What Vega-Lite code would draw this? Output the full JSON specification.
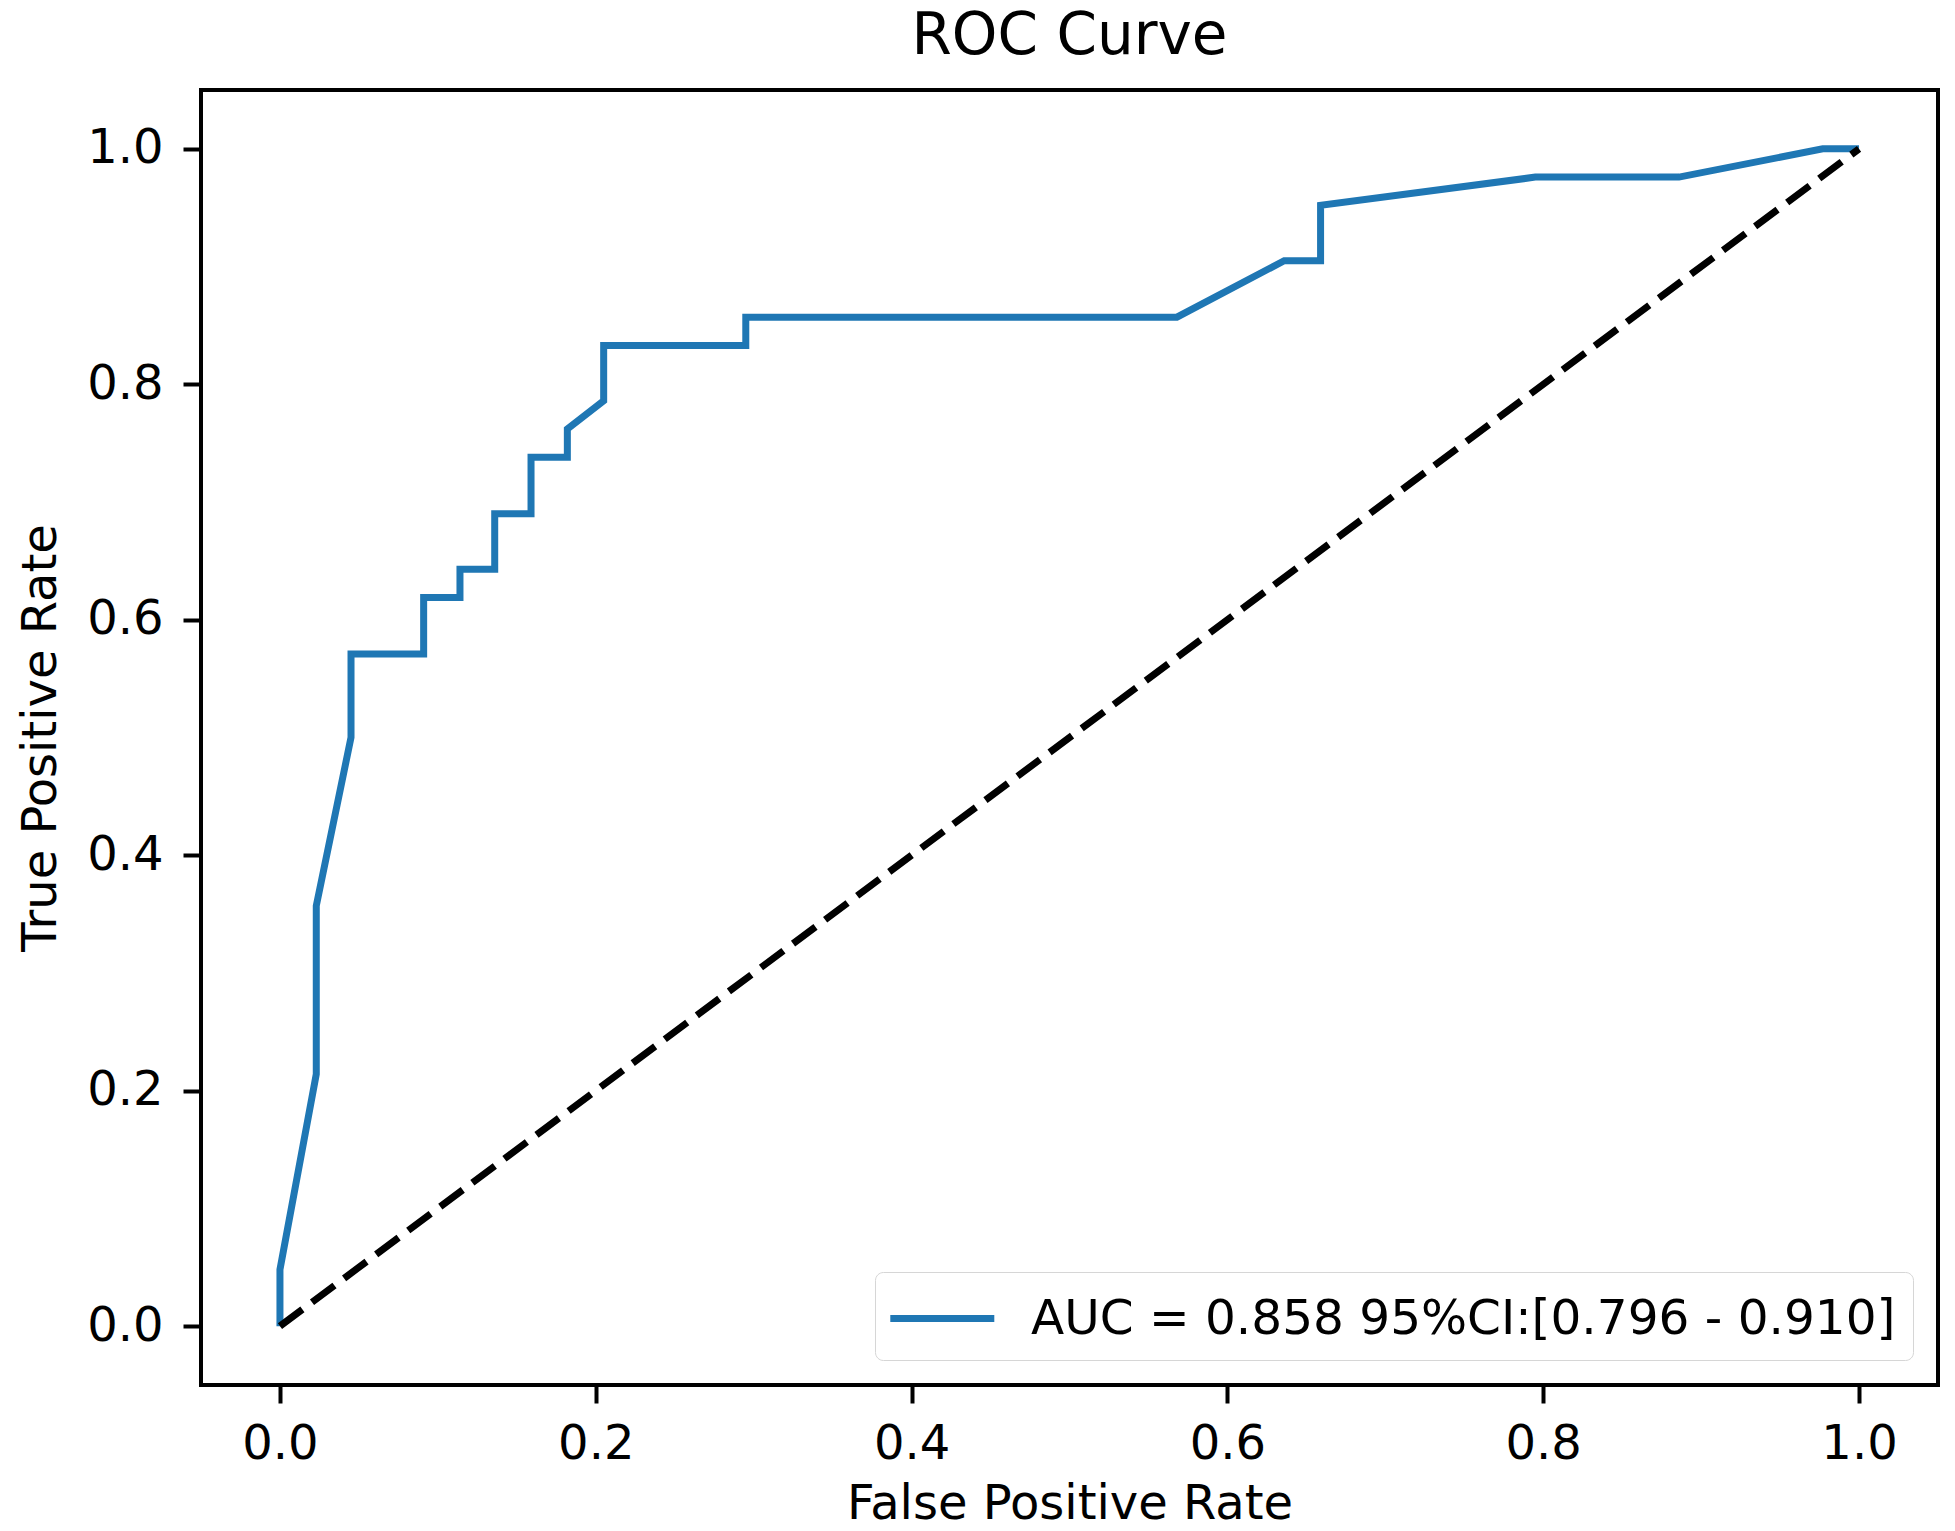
{
  "$schema": "https://vega.github.io/schema/vega-lite/v6.json",
  "width": 1737,
  "height": 1295,
  "autosize": {"type": "none"},
  "padding": {"left": 201, "top": 90, "right": 17, "bottom": 146},
  "background": "white",
  "title": {"text": "ROC Curve", "fontSize": 58, "font": "DejaVu Sans", "fontWeight": "normal", "color": "black", "baseline": "alphabetic", "offset": -22, "frame": "group", "anchor": "middle"},
  "config": {
    "font": "DejaVu Sans",
    "view": {"stroke": "black", "strokeWidth": 4},
    "axis": {
      "grid": false,
      "domain": false,
      "tickSize": 18,
      "tickWidth": 4,
      "tickColor": "black",
      "labelFont": "DejaVu Sans",
      "labelFontSize": 48,
      "labelColor": "black",
      "labelFlush": false,
      "labelOverlap": false,
      "titleFont": "DejaVu Sans",
      "titleFontSize": 48,
      "titleFontWeight": "normal",
      "titleColor": "black"
    },
    "legend": {
      "labelFont": "DejaVu Sans",
      "labelFontSize": 48.5,
      "labelColor": "black",
      "labelLimit": 3000,
      "labelOffset": 80,
      "symbolType": "M-1.2,0H2.8",
      "symbolSize": 2704,
      "symbolStrokeWidth": 7,
      "padding": 17,
      "cornerRadius": 8,
      "strokeColor": "#d6d6d6",
      "fillColor": "white"
    }
  },
  "layer": [
    {
      "data": {
        "values": [
          {"fpr": 0.0, "tpr": 0.0, "step": 0, "label": "AUC = 0.858 95%CI:[0.796 - 0.910]"},
          {"fpr": 0.0, "tpr": 0.048, "step": 1, "label": "AUC = 0.858 95%CI:[0.796 - 0.910]"},
          {"fpr": 0.023, "tpr": 0.214, "step": 2, "label": "AUC = 0.858 95%CI:[0.796 - 0.910]"},
          {"fpr": 0.023, "tpr": 0.357, "step": 3, "label": "AUC = 0.858 95%CI:[0.796 - 0.910]"},
          {"fpr": 0.045, "tpr": 0.5, "step": 4, "label": "AUC = 0.858 95%CI:[0.796 - 0.910]"},
          {"fpr": 0.045, "tpr": 0.571, "step": 5, "label": "AUC = 0.858 95%CI:[0.796 - 0.910]"},
          {"fpr": 0.091, "tpr": 0.571, "step": 6, "label": "AUC = 0.858 95%CI:[0.796 - 0.910]"},
          {"fpr": 0.091, "tpr": 0.619, "step": 7, "label": "AUC = 0.858 95%CI:[0.796 - 0.910]"},
          {"fpr": 0.114, "tpr": 0.619, "step": 8, "label": "AUC = 0.858 95%CI:[0.796 - 0.910]"},
          {"fpr": 0.114, "tpr": 0.643, "step": 9, "label": "AUC = 0.858 95%CI:[0.796 - 0.910]"},
          {"fpr": 0.136, "tpr": 0.643, "step": 10, "label": "AUC = 0.858 95%CI:[0.796 - 0.910]"},
          {"fpr": 0.136, "tpr": 0.69, "step": 11, "label": "AUC = 0.858 95%CI:[0.796 - 0.910]"},
          {"fpr": 0.159, "tpr": 0.69, "step": 12, "label": "AUC = 0.858 95%CI:[0.796 - 0.910]"},
          {"fpr": 0.159, "tpr": 0.738, "step": 13, "label": "AUC = 0.858 95%CI:[0.796 - 0.910]"},
          {"fpr": 0.182, "tpr": 0.738, "step": 14, "label": "AUC = 0.858 95%CI:[0.796 - 0.910]"},
          {"fpr": 0.182, "tpr": 0.762, "step": 15, "label": "AUC = 0.858 95%CI:[0.796 - 0.910]"},
          {"fpr": 0.205, "tpr": 0.786, "step": 16, "label": "AUC = 0.858 95%CI:[0.796 - 0.910]"},
          {"fpr": 0.205, "tpr": 0.833, "step": 17, "label": "AUC = 0.858 95%CI:[0.796 - 0.910]"},
          {"fpr": 0.295, "tpr": 0.833, "step": 18, "label": "AUC = 0.858 95%CI:[0.796 - 0.910]"},
          {"fpr": 0.295, "tpr": 0.857, "step": 19, "label": "AUC = 0.858 95%CI:[0.796 - 0.910]"},
          {"fpr": 0.568, "tpr": 0.857, "step": 20, "label": "AUC = 0.858 95%CI:[0.796 - 0.910]"},
          {"fpr": 0.636, "tpr": 0.905, "step": 21, "label": "AUC = 0.858 95%CI:[0.796 - 0.910]"},
          {"fpr": 0.659, "tpr": 0.905, "step": 22, "label": "AUC = 0.858 95%CI:[0.796 - 0.910]"},
          {"fpr": 0.659, "tpr": 0.952, "step": 23, "label": "AUC = 0.858 95%CI:[0.796 - 0.910]"},
          {"fpr": 0.795, "tpr": 0.976, "step": 24, "label": "AUC = 0.858 95%CI:[0.796 - 0.910]"},
          {"fpr": 0.886, "tpr": 0.976, "step": 25, "label": "AUC = 0.858 95%CI:[0.796 - 0.910]"},
          {"fpr": 0.977, "tpr": 1.0, "step": 26, "label": "AUC = 0.858 95%CI:[0.796 - 0.910]"},
          {"fpr": 1.0, "tpr": 1.0, "step": 27, "label": "AUC = 0.858 95%CI:[0.796 - 0.910]"}
        ]
      },
      "mark": {"type": "line", "strokeWidth": 7, "strokeJoin": "miter", "strokeCap": "butt"},
      "encoding": {
        "x": {"field": "fpr", "type": "quantitative", "scale": {"domain": [-0.05, 1.05], "nice": false, "zero": false}, "axis": {"values": [0, 0.2, 0.4, 0.6, 0.8, 1.0], "format": ".1f", "labelPadding": 17, "title": "False Positive Rate", "titleY": 133, "titleBaseline": "alphabetic"}},
        "y": {"field": "tpr", "type": "quantitative", "scale": {"domain": [-0.05, 1.05], "nice": false, "zero": false}, "axis": {"values": [0, 0.2, 0.4, 0.6, 0.8, 1.0], "format": ".1f", "labelPadding": 20, "title": "True Positive Rate", "titleX": -146, "titleBaseline": "alphabetic"}},
        "order": {"field": "step", "type": "quantitative"},
        "color": {"field": "label", "type": "nominal", "scale": {"range": ["#1f77b4"]}, "legend": {"title": null, "orient": "bottom-right", "offset": 25}}
      }
    },
    {
      "data": {"values": [{"fpr": 0, "tpr": 0}, {"fpr": 1, "tpr": 1}]},
      "mark": {"type": "line", "color": "black", "strokeWidth": 7, "strokeDash": [28, 12], "strokeCap": "butt"},
      "encoding": {
        "x": {"field": "fpr", "type": "quantitative"},
        "y": {"field": "tpr", "type": "quantitative"}
      }
    }
  ]
}
